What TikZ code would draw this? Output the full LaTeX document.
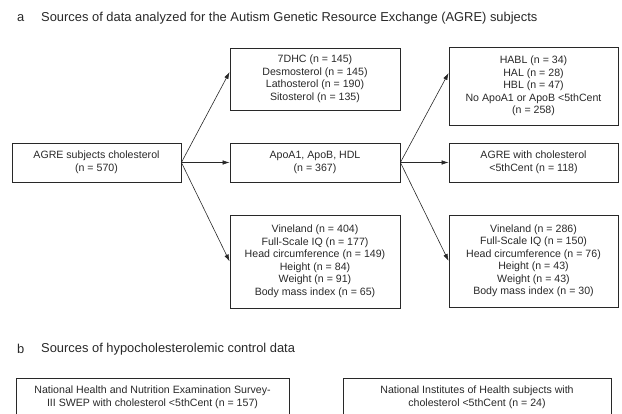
\documentclass[tikz,border=0pt]{standalone}
\usepackage{fontspec}
\setmainfont{Liberation Sans}
\usepackage{tikz}
\usetikzlibrary{arrows.meta, positioning, calc}
\definecolor{inkgray}{RGB}{40, 40, 40}

\begin{document}
\begin{tikzpicture}[
  x=1pt, y=1pt,
  sbox/.style={draw=inkgray, line width=0.8pt, align=center, inner sep=0pt, text=inkgray,
    font=\fontsize{10.6}{12.5}\selectfont},
  ptitle/.style={anchor=west, inner sep=0pt, text=inkgray, font=\fontsize{12.9}{15}\selectfont},
  flow/.style={-{Latex[length=7pt, width=4.5pt]}, line width=0.6pt, draw=inkgray}
]
  \useasboundingbox (0, 0) rectangle (622, 414);
  \clip (0, 0) rectangle (622, 414);
  % panel a
  \node[ptitle] (tla) at (17, 396) {a};
  \node[ptitle] (tsa) at (41, 396) {Sources of data analyzed for the Autism Genetic Resource Exchange (AGRE) subjects};
  \node[sbox, minimum width=169pt, minimum height=39pt] (agre) at (96.5, 251.5) {AGRE subjects cholesterol\\(n = 570)};
  \node[sbox, minimum width=170pt, minimum height=62pt] (sterols) at (315, 335) {7DHC (n = 145)\\Desmosterol (n = 145)\\Lathosterol (n = 190)\\Sitosterol (n = 135)};
  \node[sbox, minimum width=170pt, minimum height=39pt] (apo) at (315, 251.5) {ApoA1, ApoB, HDL\\(n = 367)};
  \node[sbox, minimum width=170pt, minimum height=93pt] (pheno) at (315, 152.5) {Vineland (n = 404)\\Full-Scale IQ (n = 177)\\Head circumference (n = 149)\\Height (n = 84)\\Weight (n = 91)\\Body mass index (n = 65)};
  \node[sbox, minimum width=169pt, minimum height=78pt] (lowapo) at (533.5, 328) {HABL (n = 34)\\HAL (n = 28)\\HBL (n = 47)\\No ApoA1 or ApoB <5thCent\\(n = 258)};
  \node[sbox, minimum width=169pt, minimum height=39pt] (lowchol) at (533.5, 251.5) {AGRE with cholesterol\\<5thCent (n = 118)};
  \node[sbox, minimum width=169pt, minimum height=92pt] (phenolow) at (533.5, 153) {Vineland (n = 286)\\Full-Scale IQ (n = 150)\\Head circumference (n = 76)\\Height (n = 43)\\Weight (n = 43)\\Body mass index (n = 30)};
  \draw[flow] (agre.east) -- ([yshift=7pt]sterols.west);
  \draw[flow] (agre.east) -- (apo.west);
  \draw[flow] (agre.east) -- (pheno.west);
  \draw[flow] (apo.east) -- ([yshift=13pt]lowapo.west);
  \draw[flow] (apo.east) -- (lowchol.west);
  \draw[flow] (apo.east) -- (phenolow.west);
  % panel b
  \node[ptitle] (tlb) at (17, 65) {b};
  \node[ptitle] (tsb) at (41, 65) {Sources of hypocholesterolemic control data};
  \node[sbox, minimum width=273pt, minimum height=39pt] (nhanes) at (152.5, 16.5) {National Health and Nutrition Examination Survey-\\III SWEP with cholesterol <5thCent (n = 157)};
  \node[sbox, minimum width=268pt, minimum height=39pt] (nih) at (477, 16.5) {National Institutes of Health subjects with\\cholesterol <5thCent (n = 24)};
\end{tikzpicture}
\end{document}
